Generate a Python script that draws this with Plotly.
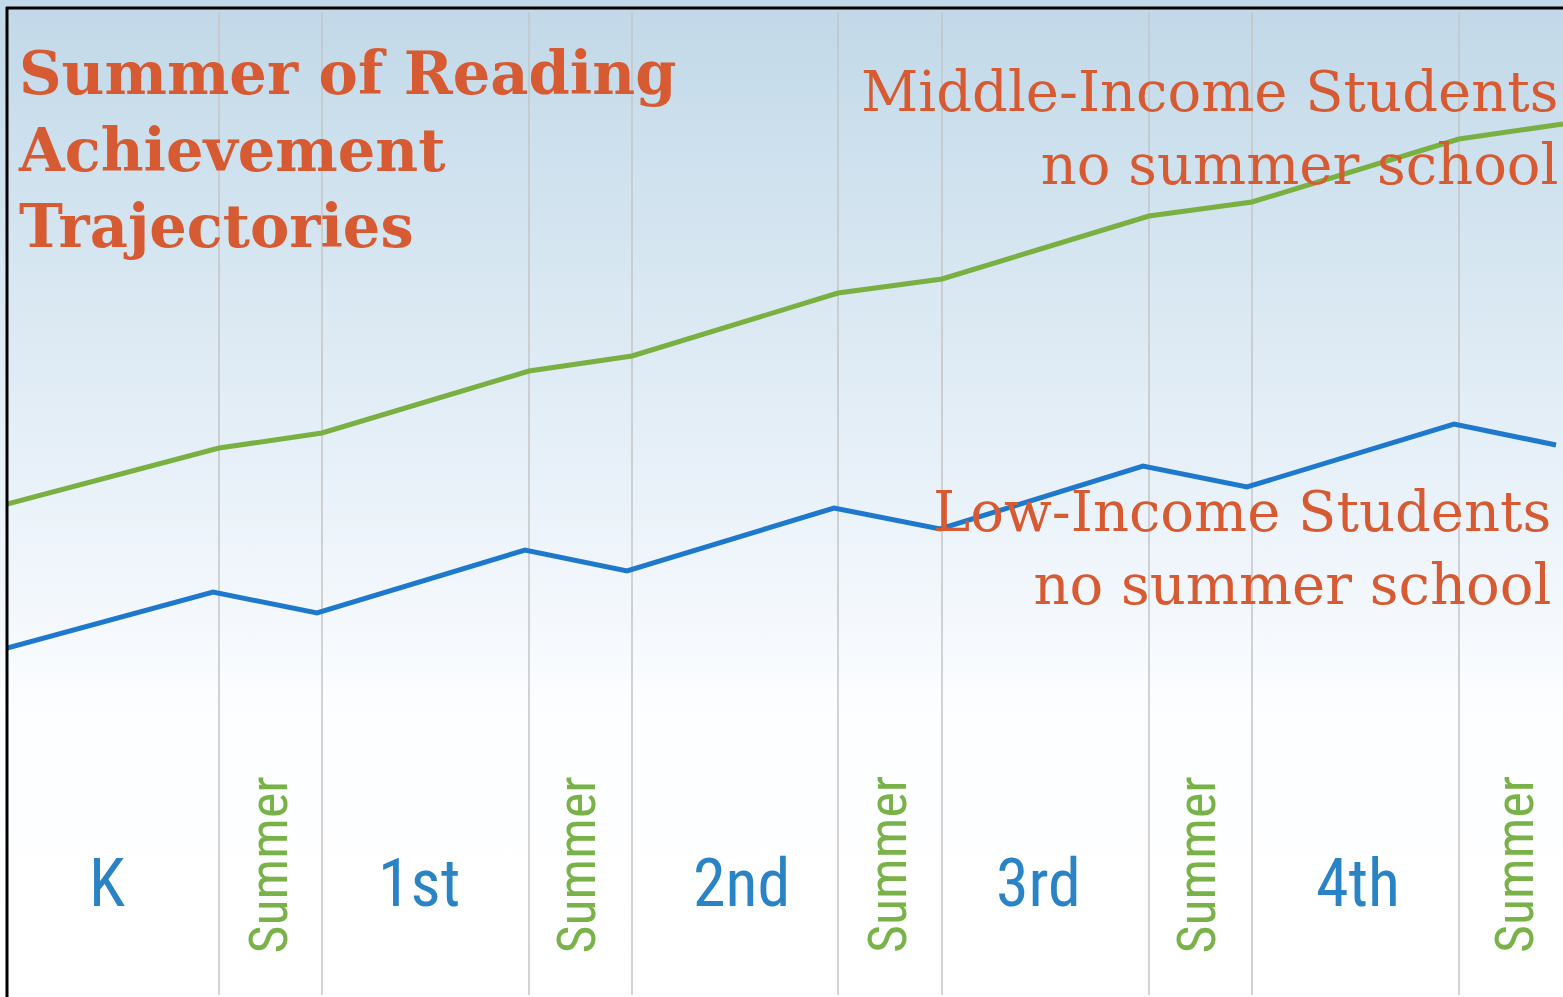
import base64
import plotly.graph_objects as go

# ---- data ----
periods = ["K", "Summer", "1st", "Summer", "2nd", "Summer", "3rd", "Summer", "4th", "Summer"]
# period boundaries along the time axis (arbitrary time units)
boundaries = [0, 2.12, 3.15, 5.22, 6.25, 8.31, 9.35, 11.42, 12.45, 14.52, 15.56]
# label centre offsets relative to segment mid
label_shift = [-0.06, -0.03, -0.07, -0.05, 0.06, -0.03, -0.07, -0.05, 0.02, 0.03]
middle_x = [0, 2.12, 3.15, 5.22, 6.25, 8.31, 9.35, 11.42, 12.45, 14.52, 15.56]
middle_income = [49.3, 54.9, 56.4, 62.6, 64.1, 70.4, 71.8, 78.1, 79.5, 85.8, 87.3]
low_x = [0, 2.06, 3.10, 5.18, 6.20, 8.27, 9.33, 11.36, 12.40, 14.47, 15.49]
low_income = [34.9, 40.5, 38.4, 44.7, 42.6, 48.9, 46.8, 53.1, 51.0, 57.3, 55.2]

title_text = "Summer of Reading<br>Achievement<br>Trajectories"
middle_label = "Middle-Income Students<br>no summer school"
low_label = "Low-Income Students<br>no summer school"

W, H = 1563, 997
ORANGE = "#d65b32"
GREEN = "#7aaf42"
BLUE = "#1e78cc"
LABEL_BLUE = "#2a83c5"
LABEL_GREEN = "#7ab24a"

def px_x(p):
    return p / W

def px_y(p):
    return 1 - p / H

# gradient background as an SVG image
svg = (
    '<svg xmlns="http://www.w3.org/2000/svg" width="100" height="100" viewBox="0 0 100 100" '
    'preserveAspectRatio="none"><defs><linearGradient id="g" x1="0" y1="0" x2="0" y2="1">'
    '<stop offset="0" stop-color="#c1d8e8"/>'
    '<stop offset="0.2" stop-color="#d1e3ef"/>'
    '<stop offset="0.4" stop-color="#e2edf6"/>'
    '<stop offset="0.6" stop-color="#f2f7fc"/>'
    '<stop offset="0.72" stop-color="#fdfeff"/>'
    '<stop offset="1" stop-color="#ffffff"/>'
    '</linearGradient></defs><rect x="0" y="0" width="100" height="100" fill="url(#g)"/></svg>'
)
svg_uri = "data:image/svg+xml;base64," + base64.b64encode(svg.encode()).decode()

fig = go.Figure()
fig.add_trace(go.Scatter(x=middle_x, y=middle_income, mode="lines",
                         line=dict(color=GREEN, width=5), name="Middle-Income",
                         hoverinfo="skip"))
fig.add_trace(go.Scatter(x=low_x, y=low_income, mode="lines",
                         line=dict(color=BLUE, width=5), name="Low-Income",
                         hoverinfo="skip"))

shapes = []
for b in boundaries[1:-1]:
    shapes.append(dict(type="line", xref="x", yref="y", x0=b, x1=b, y0=0.2, y1=98.5,
                       line=dict(color="#c4c4c4", width=1.5), layer="below"))
# black frame on the left and top
shapes.append(dict(type="line", xref="paper", yref="paper", x0=px_x(7), x1=px_x(7),
                   y0=0, y1=px_y(7), line=dict(color="black", width=3)))
shapes.append(dict(type="line", xref="paper", yref="paper", x0=px_x(6), x1=1,
                   y0=px_y(8), y1=px_y(8), line=dict(color="black", width=3)))

annotations = []
# period labels
for i, name in enumerate(periods):
    xc = (boundaries[i] + boundaries[i + 1]) / 2 + label_shift[i]
    if name == "Summer":
        annotations.append(dict(x=xc, y=13.2, xref="x", yref="y", text=name, showarrow=False,
                                textangle=-90,
                                font=dict(family="Liberation Sans Narrow, Roboto Condensed, Roboto",
                                          size=54, color=LABEL_GREEN)))
    else:
        annotations.append(dict(x=xc, y=11.4, xref="x", yref="y", text=name, showarrow=False,
                                font=dict(family="Liberation Sans Narrow, Roboto Condensed, Roboto",
                                          size=66, color=LABEL_BLUE)))

annotations.append(dict(x=px_x(16), y=px_y(150), xref="paper", yref="paper", text=title_text,
                        showarrow=False, xanchor="left", yanchor="middle", align="left",
                        font=dict(family="DejaVu Serif", size=59, color=ORANGE, weight="bold")))
annotations.append(dict(x=px_x(1560), y=px_y(128), xref="paper", yref="paper", text=middle_label,
                        showarrow=False, xanchor="right", yanchor="middle", align="right",
                        font=dict(family="DejaVu Serif", size=56, color=ORANGE)))
annotations.append(dict(x=px_x(1553), y=px_y(548), xref="paper", yref="paper", text=low_label,
                        showarrow=False, xanchor="right", yanchor="middle", align="right",
                        font=dict(family="DejaVu Serif", size=56, color=ORANGE)))

fig.update_layout(
    width=W, height=H,
    margin=dict(l=0, r=0, t=0, b=0),
    paper_bgcolor="white",
    plot_bgcolor="rgba(0,0,0,0)",
    showlegend=False,
    images=[dict(source=svg_uri, xref="paper", yref="paper", x=0, y=1, sizex=1, sizey=1,
                 xanchor="left", yanchor="top", sizing="stretch", layer="below")],
    shapes=shapes,
    annotations=annotations,
    xaxis=dict(domain=[7 / W, 1], range=[0, 15.56], showgrid=False, zeroline=False,
               showticklabels=False, ticks="", showline=False, fixedrange=True),
    yaxis=dict(domain=[0, 1 - 8 / H], range=[0, 98.9], showgrid=False, zeroline=False,
               showticklabels=False, ticks="", showline=False, fixedrange=True),
)

fig.write_html("out.html", config={"displayModeBar": False},
               post_script="document.body.style.margin='0';document.body.style.overflow='hidden';")
